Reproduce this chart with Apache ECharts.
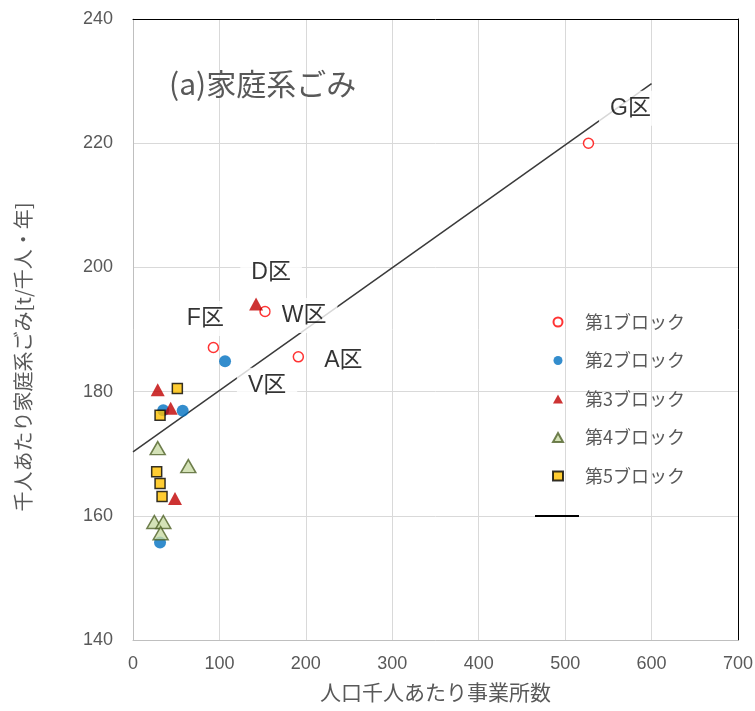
<!DOCTYPE html>
<html>
<head>
<meta charset="utf-8">
<script src="https://cdn.jsdelivr.net/npm/echarts@6/dist/echarts.min.js"></script>
<style>
  html, body { margin: 0; padding: 0; background: #fff; }
  #chart { width: 755px; height: 711px; }
</style>
</head>
<body>
<div id="chart"></div>
<script>
// Establishments per 1,000 residents (x) vs household waste per 1,000 residents (y)
const blockNames = ['第1ブロック', '第2ブロック', '第3ブロック', '第4ブロック', '第5ブロック'];

const block1X = [527, 93, 152.8, 191.3];
const block1Y = [220, 187.1, 192.9, 185.6];
const block1Labels = ['G区', 'F区', 'W区', 'A区'];

const block2X = [106.5, 35, 57.5, 31.3];
const block2Y = [184.9, 177, 176.9, 155.7];
const block2Labels = ['V区', '', '', ''];

const block3X = [142.4, 28.6, 43.6, 48.6];
const block3Y = [194.1, 180.3, 177.3, 162.8];
const block3Labels = ['D区', '', '', ''];

const block4X = [28.6, 64, 24.7, 35.1, 32];
const block4Y = [170.9, 168, 159.0, 159.0, 157.2];
const block4Labels = ['', '', '', '', ''];

const block5X = [51.3, 31.3, 27.4, 31.3, 33.6];
const block5Y = [180.5, 176.2, 167.1, 165.2, 163.1];
const block5Labels = ['', '', '', '', ''];

// Linear trend line end points
const trendName = '線形近似';
const trendX = [0, 600];
const trendY = [170.3, 229.6];

const xTicks = { min: 0, max: 700, step: 100 };
const yTicks = { min: 140, max: 240, step: 20 };

const titleText = '(a)家庭系ごみ';
const xTitle = '人口千人あたり事業所数';
const yTitle = '千人あたり家庭系ごみ[t/千人・年]';

// Where each district label sits relative to its marker (pixels)
const labelOffsets = {
  'G区': [42, -35],
  'F区': [-8, -29],
  'W区': [39, 4],
  'A区': [45, 4],
  'D区': [15, -31],
  'V区': [42, 24]
};

const GRAY = '#595959';
const CJK = '"Noto Sans CJK JP", sans-serif';
const LATIN = '"Liberation Sans", "Noto Sans CJK JP", sans-serif';

function buildPoints(xs, ys, labels) {
  return xs.map((x, i) => {
    const item = { value: [x, ys[i]], name: labels[i] };
    if (labels[i]) {
      item.label = {
        show: true,
        position: 'inside',
        offset: labelOffsets[labels[i]],
        formatter: '{b}',
        color: '#000',
        fontSize: 23,
        fontFamily: LATIN,
        backgroundColor: '#fff',
        padding: [6, 11]
      };
    }
    return item;
  });
}

const markerStyles = [
  { symbol: 'circle', symbolSize: 10, itemStyle: { color: '#fff', borderColor: '#ff0000', borderWidth: 1.5 } },
  { symbol: 'circle', symbolSize: 12, itemStyle: { color: '#0070c0', borderWidth: 0 } },
  { symbol: 'triangle', symbolSize: [14, 13], itemStyle: { color: '#c00000', borderWidth: 0 } },
  { symbol: 'triangle', symbolSize: [15, 13], itemStyle: { color: '#c9dba5', borderColor: '#4f6228', borderWidth: 1.5 } },
  { symbol: 'rect', symbolSize: 10, itemStyle: { color: '#ffc000', borderColor: '#000', borderWidth: 1.5 } }
];

const blockData = [
  buildPoints(block1X, block1Y, block1Labels),
  buildPoints(block2X, block2Y, block2Labels),
  buildPoints(block3X, block3Y, block3Labels),
  buildPoints(block4X, block4Y, block4Labels),
  buildPoints(block5X, block5Y, block5Labels)
];

const series = [{
  name: trendName,
  type: 'line',
  z: 1,
  data: trendX.map((x, i) => [x, trendY[i]]),
  symbol: 'none',
  itemStyle: { color: '#000' },
  lineStyle: { color: '#3a3a3a', width: 1.5 },
  silent: true
}];

blockNames.forEach((name, i) => {
  series.push(Object.assign({
    name: name,
    type: 'scatter',
    z: 2,
    data: blockData[i],
    label: { show: false }
  }, markerStyles[i]));
});

const legendText = { color: GRAY, fontSize: 18, lineHeight: 20, fontFamily: CJK };

const chart = echarts.init(document.getElementById('chart'), null, { renderer: 'canvas' });

chart.setOption({
  animation: false,
  backgroundColor: '#fff',
  title: {
    text: titleText,
    left: 164,
    top: 64,
    textStyle: { color: GRAY, fontSize: 30, fontWeight: 'normal', fontFamily: CJK }
  },
  grid: {
    left: 133, right: 17, top: 19, bottom: 71,
    containLabel: false,
    outerBoundsMode: 'none'
  },
  legend: [{
    // marker entries
    orient: 'vertical',
    left: 547,
    top: 307,
    itemWidth: 10,
    itemHeight: 9,
    itemGap: 18.5,
    symbolKeepAspect: true,
    data: blockNames,
    textStyle: Object.assign({ padding: [0, 0, 0, 17] }, legendText)
  }, {
    // trend line entry (no caption)
    orient: 'vertical',
    left: 530,
    top: 501,
    itemWidth: 44,
    itemHeight: 2,
    icon: 'rect',
    itemStyle: { color: '#000' },
    data: [trendName],
    formatter: () => ' ',
    textStyle: legendText
  }],
  xAxis: [{
    type: 'value',
    min: xTicks.min, max: xTicks.max, interval: xTicks.step,
    name: xTitle,
    nameLocation: 'middle',
    nameGap: 42,
    nameTextStyle: { color: GRAY, fontSize: 21, fontFamily: CJK },
    axisLine: { show: true, onZero: false, lineStyle: { color: '#bfbfbf', width: 1 } },
    axisTick: { show: false },
    axisLabel: { color: GRAY, fontSize: 18, margin: 15, fontFamily: LATIN },
    splitLine: { show: true, lineStyle: { color: '#d9d9d9', width: 1 } }
  }, {
    type: 'value',
    position: 'top',
    min: xTicks.min, max: xTicks.max,
    axisLine: { show: true, onZero: false, lineStyle: { color: '#000', width: 1 } },
    axisTick: { show: false },
    axisLabel: { show: false },
    splitLine: { show: false }
  }],
  yAxis: [{
    type: 'value',
    min: yTicks.min, max: yTicks.max, interval: yTicks.step,
    axisLine: { show: true, onZero: false, lineStyle: { color: '#bfbfbf', width: 1 } },
    axisTick: { show: false },
    axisLabel: { color: GRAY, fontSize: 18, margin: 20, fontFamily: LATIN },
    splitLine: { show: true, lineStyle: { color: '#d9d9d9', width: 1 } }
  }, {
    type: 'value',
    position: 'right',
    min: yTicks.min, max: yTicks.max,
    axisLine: { show: true, onZero: false, lineStyle: { color: '#000', width: 1 } },
    axisTick: { show: false },
    axisLabel: { show: false },
    splitLine: { show: false }
  }],
  graphic: [{
    type: 'text',
    x: 23,
    y: 357,
    rotation: Math.PI / 2,
    style: {
      text: yTitle,
      fill: GRAY,
      font: '20px "Noto Sans CJK JP", sans-serif',
      align: 'center',
      verticalAlign: 'middle'
    }
  }],
  series: series
});
</script>
</body>
</html>
